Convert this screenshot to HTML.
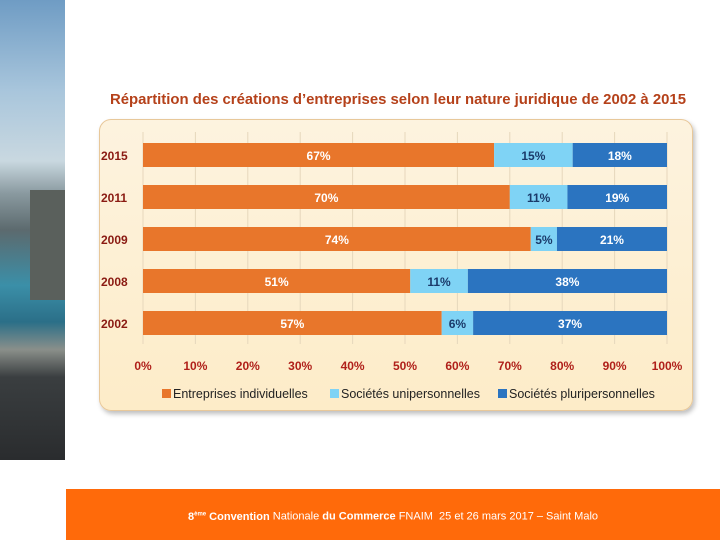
<!DOCTYPE html>
<html><head><meta charset="utf-8"><style>
body{margin:0;width:720px;height:540px;position:relative;background:#fff;overflow:hidden;font-family:"Liberation Sans",sans-serif}
#photo{position:absolute;left:0;top:0;width:65px;height:460px;background:linear-gradient(180deg,#6f9cc4 0%,#a9c6dc 20%,#c9d8e0 35%,#8a9aa0 42%,#5c6a6e 50%,#3b8fa8 62%,#2b6f88 70%,#8a8f8a 76%,#3a3e40 82%,#2a2c2e 100%)}
#tower{position:absolute;left:30px;top:190px;width:35px;height:110px;background:#5a605c}
#band{position:absolute;left:66px;top:489px;width:654px;height:51px;background:#ff6a0a;color:#fff;font-size:11px;text-align:center;line-height:50px}
#title{position:absolute;left:110px;top:92px;font-size:14.9px;font-weight:bold;color:#b5411a;white-space:nowrap}
#box{position:absolute;left:99px;top:119px;width:592px;height:290px;border-radius:12px;background:linear-gradient(180deg,#fdf3df,#fdecc8);border:1px solid #e8c89a;box-shadow:2px 3px 5px rgba(0,0,0,.25)}
</style></head><body>
<div id="photo"><div id="tower"></div></div>
<div id="title">Répartition des créations d’entreprises selon leur nature juridique de 2002 à 2015</div>
<div id="box"></div>
<svg id="chart" width="720" height="540" style="position:absolute;left:0;top:0"></svg>
<div id="band"><b>8<sup style="font-size:6px">ème</sup> Convention</b> Nationale <b>du Commerce</b> FNAIM &nbsp;25 et 26 mars 2017 – Saint Malo</div>
<script>
const years=["2015","2011","2009","2008","2002"];
const indiv=[67,70,74,51,57];
const unip=[15,11,5,11,6];
const plur=[18,19,21,38,37];
const ticks=[0,10,20,30,40,50,60,70,80,90,100];
const seriesNames=["Entreprises individuelles","Sociétés unipersonnelles","Sociétés pluripersonnelles"];
const colors=["#e8762b","#7fd3f5","#2b74c0"];
const NS="http://www.w3.org/2000/svg";
const svg=document.getElementById('chart');
const x=v=>143+v*5.24;
const y=i=>143+i*42;
function mk(t,a){const e=document.createElementNS(NS,t);for(const k in a)e.setAttribute(k,a[k]);svg.appendChild(e);return e;}
ticks.forEach(t=>{
 const g=mk('line',{x1:x(t),x2:x(t),y1:132,y2:344,stroke:'#e6d7bc','stroke-width':1});
 
 
 const l=mk('text',{x:x(t),y:370,'text-anchor':'middle','font-size':12,'font-weight':'bold',fill:'#b0201a'});
 l.textContent=t+'%';
 
 
});
const series=[indiv,unip,plur];
years.forEach((yr,i)=>{
 const yl=mk('text',{x:101,y:y(i)+17,'font-size':12,'font-weight':'bold',fill:'#8a1a12'});
 yl.textContent=yr;
 
 
 let acc=0;
 series.forEach((s,k)=>{
  const v=s[i];
  const r=mk('rect',{x:x(acc),y:y(i),width:x(acc+v)-x(acc),height:24,fill:colors[k]});
  
  
  const t=mk('text',{x:(x(acc)+x(acc+v))/2,y:y(i)+17,'text-anchor':'middle','font-size':12,'font-weight':'bold',fill:k==1?'#1a3a6a':'#fff'});
  t.textContent=v+'%';
  
  
  acc+=v;
 });
});
const lx=[162,330,498];
seriesNames.forEach((n,k)=>{
 const r=mk('rect',{x:lx[k],y:389,width:9,height:9,fill:colors[k]});
 
 
 const t=mk('text',{x:lx[k]+11,y:398,'font-size':12.5,fill:'#222'});
 t.textContent=n;
 
 
});
</script>
</body></html>
